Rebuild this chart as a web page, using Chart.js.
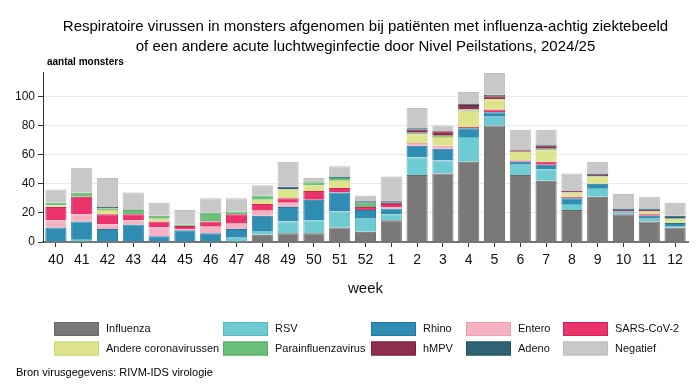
<!DOCTYPE html>
<html>
<head>
<meta charset="utf-8">
<script src="https://cdn.jsdelivr.net/npm/chart.js@4/dist/chart.umd.min.js"></script>
<style>
  html, body { margin: 0; padding: 0; background: #fff; }
  #wrap { width: 699px; height: 388px; }
</style>
</head>
<body>
<div id="wrap"><canvas id="chart" width="699" height="388"></canvas></div>
<script>
const weeks = ['40','41','42','43','44','45','46','47','48','49','50','51','52',
               '1','2','3','4','5','6','7','8','9','10','11','12'];

const influenza = [0,0,0,0,0,0,0,0,5,6,6,10,7,15,46,47,55,80,46,42,22,31,19,14,10];
const rsv       = [0,2,0,0,0,0,0,3,2,8,9,11,9,4,12,9,17,6,7,8,4,6,1,2,1];
const rhino     = [10,12,9,12,4,8,6,6,11,10,14,13,6,4,8,8,6,3,2,3,4,3,1,2,2];
const entero    = [5,5,3,3,6,1,5,4,4,3,0,0,0,1,2,2,0,0,0,0,0,0,0,0,0];
const sarsCov2  = [9,12,7,4,4,2,3,6,4,3,6,3,2,2,0,0,1,2,1,2,1,0,0,1,0];
const andereCorona = [1,0,3,0,2,0,0,0,3,6,4,5,0,0,6,6,11,7,6,8,3,5,0,2,3];
const parainfluenza = [2,3,1,3,2,1,6,2,3,0,2,2,3,0,1,1,1,0,0,1,0,0,0,0,0];
const hmpv      = [0,0,0,0,0,0,0,0,0,0,0,0,0,1,2,3,3,2,1,2,1,1,1,1,0];
const adeno     = [0,0,1,0,0,0,0,0,0,2,0,1,1,1,1,0,1,1,0,1,0,1,1,1,2];
const negatief  = [9,17,20,12,9,10,10,9,7,17,3,7,4,17,14,4,8,15,14,10,12,8,10,8,9];

const yTicks = [0, 20, 40, 60, 80, 100];

const series = [
  { label: 'Influenza', data: influenza, color: '#7b7978', border: '#6a6867' },
  { label: 'RSV', data: rsv, color: '#6ecbd2', border: '#58b9c1' },
  { label: 'Rhino', data: rhino, color: '#2f8db4', border: '#1f7aa0' },
  { label: 'Entero', data: entero, color: '#f5b1c2', border: '#e9a0b3' },
  { label: 'SARS-CoV-2', data: sarsCov2, color: '#e9336a', border: '#d3205a' },
  { label: 'Andere coronavirussen', data: andereCorona, color: '#dde48b', border: '#cbd479' },
  { label: 'Parainfluenzavirus', data: parainfluenza, color: '#6bbf76', border: '#59ad64' },
  { label: 'hMPV', data: hmpv, color: '#8d2e4c', border: '#7a213d' },
  { label: 'Adeno', data: adeno, color: '#2f6373', border: '#235462' },
  { label: 'Negatief', data: negatief, color: '#c8c8c8', border: '#bdbdbd' }
];

const FONT = '"Liberation Sans", Arial, sans-serif';

// legend grid + axis caption + source line
const extras = {
  id: 'extras',
  afterDraw(chart) {
    const ctx = chart.ctx;
    const area = chart.chartArea;
    ctx.save();
    ctx.fillStyle = '#000';
    ctx.font = 'bold 10px ' + FONT;
    ctx.textBaseline = 'middle';
    ctx.textAlign = 'left';
    ctx.fillText('aantal monsters', area.left + 4, 62);

    const colX = [54, 223, 371, 466, 563];
    const rowY = [329, 348.5];
    ctx.font = '11px ' + FONT;
    chart.data.datasets.forEach((ds, i) => {
      const x = colX[i % 5];
      const y = rowY[Math.floor(i / 5)];
      ctx.fillStyle = ds.backgroundColor;
      ctx.fillRect(x, y - 7, 45, 14);
      ctx.strokeStyle = ds.borderColor;
      ctx.lineWidth = 1;
      ctx.strokeRect(x + 0.5, y - 6.5, 44, 13);
      ctx.fillStyle = '#111';
      ctx.fillText(ds.label, x + 52, y);
    });

    ctx.font = '11px ' + FONT;
    ctx.fillStyle = '#000';
    ctx.fillText('Bron virusgegevens: RIVM-IDS virologie', 16, 373);
    ctx.restore();
  }
};

new Chart(document.getElementById('chart'), {
  type: 'bar',
  data: {
    labels: weeks,
    datasets: series.map(s => ({
      label: s.label,
      data: s.data,
      backgroundColor: s.color,
      borderColor: s.border,
      borderWidth: 1,
      barPercentage: 0.82,
      categoryPercentage: 1
    }))
  },
  options: {
    responsive: false,
    animation: false,
    layout: { padding: { left: 0, right: 11, top: 0, bottom: 86 } },
    scales: {
      x: {
        stacked: true,
        grid: {
          display: true,
          drawOnChartArea: false,
          drawTicks: true,
          offset: false,
          tickLength: 5,
          tickColor: '#333'
        },
        border: { color: '#777', width: 2 },
        ticks: { color: '#111', font: { family: FONT, size: 14 }, padding: 5, maxRotation: 0, autoSkip: false },
        title: { display: true, text: 'week', color: '#111', font: { family: FONT, size: 15 }, padding: { top: 4, bottom: 4 } },
        afterFit(scale) { scale.height = 60; }
      },
      y: {
        stacked: true,
        min: 0,
        max: 116,
        afterBuildTicks(scale) { scale.ticks = yTicks.map(v => ({ value: v })); },
        grid: { color: '#e4ecf1', lineWidth: 1, tickLength: 5, tickColor: '#333' },
        border: { color: '#333', width: 1 },
        ticks: { color: '#111', font: { family: FONT, size: 12 }, padding: 3 },
        afterFit(scale) { scale.width = 43; scale.paddingTop = 0; scale.paddingBottom = 0; }
      }
    },
    plugins: {
      legend: { display: false },
      tooltip: { enabled: false },
      title: {
        display: true,
        fullSize: false, // centre over the plot area only
        text: [
          'Respiratoire virussen in monsters afgenomen bij patiënten met influenza-achtig ziektebeeld',
          'of een andere acute luchtweginfectie door Nivel Peilstations, 2024/25'
        ],
        color: '#000',
        font: { family: FONT, size: 15, weight: 'normal', lineHeight: 1.333 },
        padding: { top: 17, bottom: 16 }
      }
    }
  },
  plugins: [extras]
});
</script>
</body>
</html>
